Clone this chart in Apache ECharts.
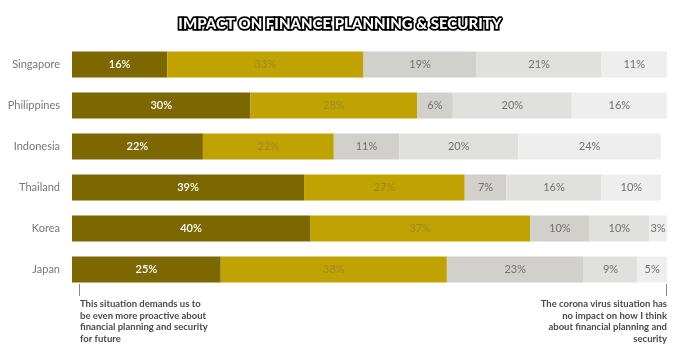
<!DOCTYPE html>
<html>
<head>
<meta charset="utf-8">
<script src="https://cdn.jsdelivr.net/npm/echarts@6/dist/echarts.min.js"></script>
<style>
html,body{margin:0;padding:0;background:#fff;}
#chart{width:680px;height:355px;}
</style>
</head>
<body>
<div id="chart"></div>
<script>
const countries = ['Singapore', 'Philippines', 'Indonesia', 'Thailand', 'Korea', 'Japan'];
const seriesNames = ['s1', 's2', 's3', 's4', 's5'];
const s1 = [16, 30, 22, 39, 40, 25];
const s2 = [33, 28, 22, 27, 37, 38];
const s3 = [19, 6, 11, 7, 10, 23];
const s4 = [21, 20, 20, 16, 10, 9];
const s5 = [11, 16, 24, 10, 3, 5];
const titleText = 'IMPACT ON FINANCE PLANNING & SECURITY';
const leftNote = 'This situation demands us to\nbe even more proactive about\nfinancial planning and security\nfor future';
const rightNote = 'The corona virus situation has\nno impact on how I think\nabout financial planning and\nsecurity';

const values = [s1, s2, s3, s4, s5];
const fills = ['#7c6700', '#c0a300', '#d1d0cb', '#e0e0dd', '#eeeeee'];
const labelColors = ['#ffffff', '#9c8a2a', '#707070', '#707070', '#707070'];
const FONT = 'Lato, "Open Sans", sans-serif';

const chart = echarts.init(document.getElementById('chart'));
chart.setOption({
  animation: false,
  backgroundColor: '#ffffff',
  title: {
    text: titleText,
    left: 'center',
    top: 12,
    textStyle: {
      fontFamily: FONT,
      fontSize: 15,
      fontWeight: 900,
      color: '#ffffff',
      textBorderColor: '#000000',
      textBorderWidth: 3.5
    }
  },
  grid: { left: 72, right: 13, top: 44, height: 246 },
  xAxis: { type: 'value', min: 0, max: 100, show: false },
  yAxis: {
    type: 'category',
    inverse: true,
    data: countries,
    axisLine: { show: false },
    axisTick: { show: false },
    axisLabel: { color: '#777777', fontSize: 11, fontFamily: FONT, margin: 12 }
  },
  series: values.map((v, i) => ({
    name: seriesNames[i],
    type: 'bar',
    stack: 'total',
    barWidth: 26,
    data: v,
    itemStyle: { color: fills[i] },
    label: {
      show: true,
      position: 'inside',
      formatter: '{c}%',
      color: labelColors[i],
      fontSize: 11,
      fontFamily: FONT,
      fontWeight: i === 0 ? 600 : 'normal'
    }
  })),
  graphic: [
    { type: 'line', shape: { x1: 79.5, y1: 284, x2: 79.5, y2: 296 }, style: { stroke: '#888', lineWidth: 1 } },
    { type: 'line', shape: { x1: 666.5, y1: 284, x2: 666.5, y2: 296 }, style: { stroke: '#888', lineWidth: 1 } },
    { type: 'text', x: 80, y: 298, style: { text: leftNote, fill: '#4a4a4a', font: 'bold 9.5px ' + FONT, lineHeight: 11.7, align: 'left', verticalAlign: 'top' } },
    { type: 'text', x: 667, y: 298, style: { text: rightNote, fill: '#4a4a4a', font: 'bold 9.5px ' + FONT, lineHeight: 11.7, align: 'right', verticalAlign: 'top' } }
  ]
});
</script>
</body>
</html>
